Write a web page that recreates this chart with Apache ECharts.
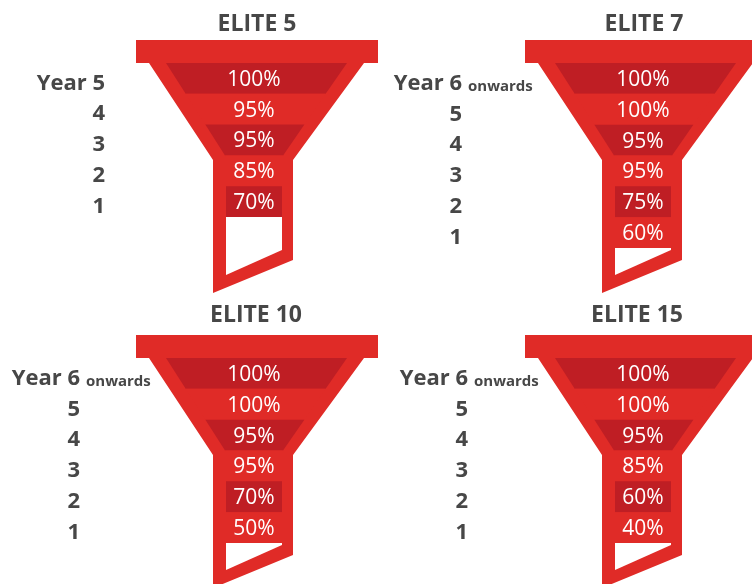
<!DOCTYPE html>
<html><head><meta charset="utf-8">
<script src="https://cdn.jsdelivr.net/npm/echarts@6/dist/echarts.min.js"></script>
<style>html,body{margin:0;padding:0;background:#fff}#c{width:752px;height:584px}</style>
</head><body><div id="c"></div>
<script>
// ---- data ----
const titles = ['ELITE 5', 'ELITE 7', 'ELITE 10', 'ELITE 15'];
const yearsElite5 = ['Year 5', '4', '3', '2', '1'];
const yearsLater = ['Year 6 onwards', '5', '4', '3', '2', '1'];
const elite5 = [100, 95, 95, 85, 70];
const elite7 = [100, 100, 95, 95, 75, 60];
const elite10 = [100, 100, 95, 95, 70, 50];
const elite15 = [100, 100, 95, 85, 60, 40];

// ---- style / layout ----
const RED = '#E02B27', DARK = '#BF1E24', INK = '#474747';
const FONT = '"Open Sans", "Noto Sans", sans-serif';
const panels = [
  { title: titles[0], years: yearsElite5, values: elite5, cx: 254, top: 63, titleX: 257, titleY: 13, labelRight: 105 },
  { title: titles[1], years: yearsLater, values: elite7, cx: 643, top: 63, titleX: 644, titleY: 13, labelRight: 462 },
  { title: titles[2], years: yearsLater, values: elite10, cx: 254, top: 358, titleX: 256, titleY: 304, labelRight: 80 },
  { title: titles[3], years: yearsLater, values: elite15, cx: 643, top: 358, titleX: 637, titleY: 304, labelRight: 468 }
];

function frameRender(n) {
  return function (params, api) {
    const c0 = api.coord([0, 0]);
    const h = api.size([0, 1])[1];
    const k = api.size([1, 0])[0];
    const T = c0[1] - h / 2, cx = c0[0];
    const yb = api.coord([0, n - 1])[1] + h / 2 - T;
    const P = (x, y) => [cx + x * k, T + y];
    return {
      type: 'group', children: [
        { type: 'polygon', shape: { points: [P(-118, -23), P(124, -23), P(124, 0), P(-118, 0)] }, style: { fill: RED } },
        { type: 'polygon', shape: { points: [P(-105, 0), P(110, 0), P(39, 97), P(39, 197), P(-41, 230), P(-41, 97)] }, style: { fill: RED } },
        { type: 'polygon', shape: { points: [P(-28, yb), P(28, yb), P(28, Math.max(yb, 187)), P(-28, 212)] }, style: { fill: '#fff' } }
      ]
    };
  };
}

function bandRender(p) {
  return function (params, api) {
    const j = api.value(1), v = api.value(2);
    const c = api.coord([0, j]);
    const h = api.size([0, 1])[1];
    const k = api.size([1, 0])[0];
    const T = api.coord([0, 0])[1] - h / 2;
    const y0 = c[1] - h / 2, y1 = c[1] + h / 2;
    const d0 = y0 - T, d1 = y1 - T;
    const K = 94;
    const L = d => d < K ? -88 + 60 * d / K : -28;
    const R = d => d < K ? 93 - 65 * d / K : 28;
    const X = x => c[0] + x * k;
    const kink = d0 < K && d1 > K;
    const pts = [[X(L(d0)), y0], [X(R(d0)), y0]];
    if (kink) pts.push([X(28), T + K]);
    pts.push([X(R(d1)), y1], [X(L(d1)), y1]);
    if (kink) pts.push([X(-28), T + K]);
    const children = [
      { type: 'polygon', shape: { points: pts }, style: { fill: j % 2 === 0 ? DARK : RED } },
      { type: 'text', x: X(0), y: c[1] + 1.5, style: { text: v + '%', fill: '#fff', font: '400 21px ' + FONT, align: 'center', verticalAlign: 'middle', textAlign: 'center', textVerticalAlign: 'middle' } }
    ];
    const cat = p.years[j];
    const m = cat.match(/^(.*?)\s+(onwards)$/);
    const lx = c[0] + (p.labelRight - p.cx);
    const ly = c[1] + 5;
    children.push({ type: 'text', x: lx, y: ly, style: { text: m ? m[1] : cat, fill: INK, font: '700 22px ' + FONT, align: 'right', verticalAlign: 'middle', textAlign: 'right', textVerticalAlign: 'middle' } });
    if (m) {
      children.push({ type: 'text', x: lx + 6, y: ly + 3, style: { text: m[2], fill: INK, font: '700 15px ' + FONT, align: 'left', verticalAlign: 'middle', textAlign: 'left', textVerticalAlign: 'middle' } });
    }
    return { type: 'group', children };
  };
}

const option = {
  backgroundColor: '#fff',
  animation: false,
  title: panels.map(p => ({
    text: p.title, left: p.titleX, top: p.titleY, textAlign: 'center', padding: 0,
    textStyle: { fontSize: 23, fontWeight: 'bold', color: INK, fontFamily: FONT }
  })),
  grid: panels.map(p => ({ left: p.cx - 100, width: 200, top: p.top, height: Math.round(p.values.length * 30.85) })),
  xAxis: panels.map((p, i) => ({ gridIndex: i, type: 'value', min: -100, max: 100, show: false })),
  yAxis: panels.map((p, i) => ({ gridIndex: i, type: 'category', data: p.years, inverse: true, show: false })),
  series: panels.flatMap((p, i) => [
    { type: 'custom', name: p.title + ' frame', xAxisIndex: i, yAxisIndex: i, silent: true, z: 1,
      data: [[0, 0]], renderItem: frameRender(p.values.length) },
    { type: 'custom', name: p.title, xAxisIndex: i, yAxisIndex: i, silent: true, z: 2,
      encode: { x: 0, y: 1 },
      data: p.values.map((v, j) => [0, j, v]), renderItem: bandRender(p) }
  ])
};
const chart = echarts.init(document.getElementById('c'));
chart.setOption(option);
</script>
</body></html>
